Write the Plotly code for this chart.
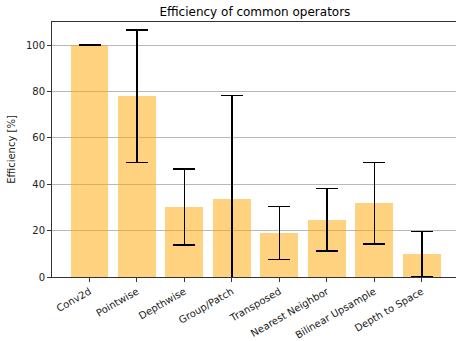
import plotly.graph_objects as go

operators = ["Conv2d", "Pointwise", "Depthwise", "Group/Patch", "Transposed",
             "Nearest Neighbor", "Bilinear Upsample", "Depth to Space"]
efficiency = [100, 78, 30.1, 33.6, 19, 24.7, 31.8, 9.9]
efficiency_err = [0, 28.5, 16.4, 44.7, 11.4, 13.5, 17.6, 9.7]
y_ticks = [0, 20, 40, 60, 80, 100]

x_pos = list(range(len(operators)))

fig = go.Figure()
fig.add_trace(go.Bar(
    x=x_pos, y=efficiency, width=0.8,
    marker=dict(color="rgba(255,165,0,0.5)", line=dict(width=0)),
    error_y=dict(type="data", array=efficiency_err, visible=True,
                 color="black", thickness=1.5, width=11),
    cliponaxis=True,
))

font = "DejaVu Sans, sans-serif"
fig.update_layout(
    width=456, height=341,
    margin=dict(l=52, r=0, t=22, b=64),
    paper_bgcolor="white", plot_bgcolor="white",
    font=dict(family=font, size=10, color="#222"),
    title=dict(text="Efficiency of common operators", x=0.559, xanchor="center",
               y=0.965, yanchor="middle", font=dict(size=12, color="black")),
    showlegend=False,
    bargap=0,
)
fig.update_xaxes(
    range=[-0.79, 7.72], tickvals=x_pos, ticktext=operators, tickangle=-30,
    showline=True, linecolor="#333", linewidth=1, mirror=True, automargin=False,
    ticks="outside", ticklen=4, tickcolor="#333", showgrid=False, zeroline=False,
)
fig.update_yaxes(
    range=[0, 110], tickvals=y_ticks, automargin=False,
    showline=True, linecolor="#333", linewidth=1, mirror=True,
    ticks="outside", ticklen=4, tickcolor="#333",
    showgrid=True, gridcolor="#b8b8b8", gridwidth=0.8, zeroline=False,
    title=dict(text="Efficiency [%]", font=dict(size=10), standoff=8),
)

fig.write_html("out.html", config={"displayModeBar": False},
               post_script="document.body.style.margin='0';document.body.style.padding='0';")
